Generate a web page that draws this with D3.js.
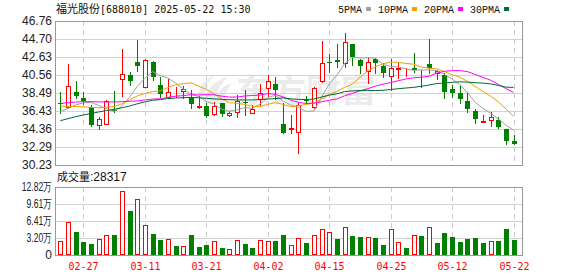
<!DOCTYPE html>
<html>
<head>
<meta charset="utf-8">
<script src="https://cdn.jsdelivr.net/npm/d3@7"></script>
<style>
  body { margin: 0; background: #fff; }
</style>
</head>
<body>
<div id="chart"></div>
<script>
const dates = ["02-24","02-25","02-26","02-27","02-28","03-03","03-04","03-05","03-06","03-07",
  "03-10","03-11","03-12","03-13","03-14","03-17","03-18","03-19","03-20","03-21",
  "03-24","03-25","03-26","03-27","03-28","03-31","04-01","04-02","04-03","04-07",
  "04-08","04-09","04-10","04-11","04-14","04-15","04-16","04-17","04-18","04-21",
  "04-22","04-23","04-24","04-25","04-28","04-29","04-30","05-06","05-07","05-08",
  "05-09","05-12","05-13","05-14","05-15","05-16","05-19","05-20","05-21","05-22"];

const opens = [37.40,36.93,38.65,37.88,36.93,34.78,34.90,36.54,40.06,40.56,
  42.09,39.14,42.05,39.37,37.99,38.60,38.69,38.07,36.93,37.00,
  36.05,37.31,35.93,36.28,37.42,36.16,37.84,39.03,39.53,34.90,
  34.36,33.98,37.69,36.85,39.87,42.09,42.28,41.90,44.12,42.28,
  41.02,42.36,41.63,40.45,41.25,40.87,41.33,40.90,41.82,40.83,
  40.56,38.95,38.46,37.58,36.47,35.13,35.36,35.40,34.36,32.98];
const highs = [38.65,41.82,39.87,38.61,37.12,35.78,37.69,38.72,43.55,40.94,
  44.58,42.44,42.21,40.37,40.06,39.22,39.30,38.84,38.15,37.31,
  37.50,37.38,36.47,38.26,38.84,37.12,39.49,40.56,40.37,37.38,
  35.97,37.38,38.15,39.22,44.46,42.93,44.08,45.42,44.12,42.36,
  42.59,42.47,41.98,42.36,41.98,41.33,43.05,41.14,44.69,41.14,
  40.75,39.41,39.41,38.65,36.62,35.97,36.35,35.78,34.36,33.67];
const lows = [36.16,36.85,37.88,37.23,34.70,34.32,34.90,36.31,38.15,39.41,
  41.06,39.14,39.99,37.99,37.88,37.99,37.88,36.73,36.73,35.70,
  35.97,35.89,35.85,35.78,35.97,36.16,37.12,38.15,37.77,33.94,
  33.86,31.64,37.31,36.73,39.80,40.94,41.52,41.44,41.71,40.83,
  39.60,40.83,40.37,38.84,40.18,40.45,40.94,39.22,40.75,40.06,
  37.88,37.99,37.31,36.35,35.09,35.13,34.70,34.44,32.64,32.60];
const closes = [37.30,39.30,38.15,37.54,34.82,35.47,37.58,36.39,40.68,39.91,
  41.63,42.28,40.29,38.34,38.61,38.65,38.95,37.19,37.00,35.89,
  37.00,36.05,36.16,37.58,37.31,36.66,38.46,39.87,38.84,33.94,
  34.43,37.12,37.58,39.11,41.90,41.98,42.05,44.31,42.59,41.63,
  42.09,41.90,40.75,41.33,41.33,40.94,41.14,40.94,41.33,41.02,
  38.65,38.53,37.81,36.62,35.47,35.28,35.74,34.55,33.02,32.60];

// volume in 万手, and whether the bar is drawn red (1) or green (0)
const volumes = [2.63,6.25,4.38,2.50,2.06,3.00,3.69,3.75,12.00,8.26,
  10.50,5.63,3.94,2.81,2.94,1.69,1.63,3.75,1.50,1.88,
  2.63,1.31,1.06,2.81,2.06,1.31,2.81,2.63,2.63,3.75,
  1.88,3.19,2.25,3.75,4.82,4.31,3.00,5.19,3.56,3.38,
  3.31,3.19,1.88,4.82,2.38,1.31,3.69,3.56,5.19,2.25,
  4.13,3.38,2.44,3.00,3.19,2.25,2.63,2.63,4.88,2.83];
const volUp = [1,1,0,0,0,1,1,0,1,0,
  1,1,0,0,1,0,1,0,0,0,
  1,0,1,1,0,0,1,1,0,0,
  1,1,0,1,1,1,0,1,0,0,
  1,0,0,1,1,0,1,0,1,0,
  0,0,0,0,0,0,1,0,0,0];
const lastVolume = 28317;

const ma5 = [36.35,36.73,37.12,37.38,37.42,37.06,36.71,36.36,36.99,38.01,
  39.24,40.18,40.96,40.49,40.23,39.63,38.97,38.35,38.08,37.54,
  37.21,36.63,36.42,36.54,36.82,36.75,37.23,37.98,38.23,37.55,
  37.11,36.84,36.38,36.44,38.03,39.54,40.52,41.87,42.57,42.51,
  42.53,42.50,41.79,41.54,41.48,41.25,41.10,41.14,41.14,41.07,
  40.62,40.09,39.47,38.53,37.42,36.74,36.18,35.53,34.81,34.24];
const ma10 = [37.00,36.95,36.95,36.90,36.85,36.80,36.85,36.95,37.25,37.71,
  38.15,38.45,38.66,38.74,39.12,39.44,39.58,39.66,39.29,38.89,
  38.42,37.80,37.39,37.31,37.18,36.98,36.93,37.20,37.39,37.19,
  36.93,37.04,37.18,37.34,37.79,38.33,38.68,39.13,39.51,40.27,
  41.04,41.51,41.83,42.06,42.00,41.89,41.80,41.47,41.34,41.28,
  40.94,40.60,40.31,39.84,39.25,38.68,38.14,37.50,36.67,35.83];
const ma20 = [37.30,37.38,37.45,37.50,37.50,37.48,37.46,37.47,37.50,37.55,
  37.58,37.70,37.80,37.82,37.99,38.12,38.20,38.30,38.27,38.30,
  38.29,38.13,38.03,38.03,38.15,38.21,38.26,38.43,38.34,38.04,
  37.68,37.42,37.29,37.33,37.49,37.66,37.81,38.17,38.45,38.73,
  38.99,39.28,39.51,39.70,39.90,40.11,40.24,40.30,40.43,40.78,
  40.99,41.06,41.07,40.95,40.63,40.29,39.97,39.49,39.01,38.56];
const ma30 = [35.32,35.55,35.78,35.97,36.15,36.32,36.48,36.62,36.80,37.00,
  37.25,37.48,37.65,37.75,37.85,37.92,37.96,37.98,37.95,37.88,
  37.82,37.77,37.72,37.70,37.70,37.70,37.74,37.80,37.85,37.93,
  37.83,37.76,37.74,37.80,38.03,38.25,38.40,38.66,38.73,38.78,
  38.80,38.78,38.80,38.90,38.99,39.07,39.14,39.27,39.41,39.58,
  39.64,39.72,39.77,39.75,39.68,39.63,39.54,39.37,39.17,39.13];

const priceTicks = [46.76,44.70,42.63,40.56,38.49,36.43,34.36,32.29,30.23];
const volTicks = [12.82,9.61,6.41,3.20,0];
const dateTicks = ["02-27","03-11","03-21","04-02","04-15","04-25","05-12","05-22"];

const maNames = ["5PMA","10PMA","20PMA","30PMA"];
const maColors = ["#a0a0a0","#f0a000","#ff00ff","#006b2e"];
const maSeries = [ma5, ma10, ma20, ma30];

const RED = "#ff0000", GREEN = "#008000";

const svg = d3.select("#chart").append("svg")
    .attr("width", 578).attr("height", 276)
    .style("font-family", "'Liberation Sans', Arial, sans-serif");

const left = 55, right = 522, kTop = 21, kBot = 165, vTop = 187, vBot = 255;

const x = d3.scaleLinear().domain([-0.7, 60.1]).range([left, right]);
const y = d3.scaleLinear().domain([30.23, 46.76]).range([kBot, kTop]);
const yv = d3.scaleLinear().domain([0, 12.82]).range([vBot, vTop]);
const px = i => Math.round(x(i));
const py = v => Math.round(y(v));

// watermark
const wm = svg.append("g").attr("fill", "#ebebeb");
wm.append("path")
    .attr("d", "M203,104 C206,90 214,80 228,77 C220,84 216,92 215,104 Z M213,104 C216,93 222,86 232,83 C226,90 224,97 224,104 Z M198,96 C199,86 205,79 214,76 C207,83 204,90 204,98 Z");
wm.append("text")
    .attr("x", 236).attr("y", 102)
    .attr("font-family", "'Noto Sans CJK SC'")
    .attr("font-weight", "bold")
    .attr("font-size", 32)
    .attr("textLength", 140)
    .attr("lengthAdjust", "spacingAndGlyphs")
    .text("东方财富");

// grid
const grid = svg.append("g").attr("shape-rendering", "crispEdges");
grid.selectAll(".hk").data(priceTicks.slice(1, -1)).enter().append("line")
    .attr("x1", left).attr("x2", right)
    .attr("y1", d => py(d) + 0.5).attr("y2", d => py(d) + 0.5)
    .attr("stroke", "#d2d2d2");
grid.selectAll(".hv").data(volTicks.slice(1, -1)).enter().append("line")
    .attr("x1", left).attr("x2", right)
    .attr("y1", d => Math.round(yv(d)) + 0.5).attr("y2", d => Math.round(yv(d)) + 0.5)
    .attr("stroke", "#d2d2d2");

const tickIdx = dateTicks.map(d => dates.indexOf(d));
[[kTop, kBot], [vTop, vBot]].forEach(([a, b]) => {
    grid.selectAll(null).data(tickIdx).enter().append("line")
        .attr("x1", d => px(d) + 0.5).attr("x2", d => px(d) + 0.5)
        .attr("y1", a).attr("y2", b)
        .attr("stroke", "#cccccc")
        .attr("stroke-dasharray", "5,4");
});

// borders
[[kTop, kBot], [vTop, vBot]].forEach(([a, b]) => {
    grid.append("rect")
        .attr("x", left + 0.5).attr("y", a + 0.5)
        .attr("width", right - left).attr("height", b - a)
        .attr("fill", "none").attr("stroke", "#999");
});

// y labels
svg.append("g").selectAll("text").data(priceTicks).enter().append("text")
    .attr("x", 52).attr("y", d => y(d))
    .attr("dy", "0.36em")
    .attr("text-anchor", "end")
    .attr("font-size", 12)
    .attr("fill", "#222")
    .text(d => d.toFixed(2));

svg.append("g").selectAll("text").data(volTicks).enter().append("text")
    .attr("x", 52).attr("y", d => yv(d))
    .attr("dy", "0.36em")
    .attr("text-anchor", "end")
    .attr("font-size", 12)
    .attr("fill", "#222")
    .text(d => d === 0 ? "0" : d.toFixed(2) + "万")
    .each(function(d) {
        if (d === 0) return;
        const w = this.getComputedTextLength();
        d3.select(this).attr("textLength", w * 0.72).attr("lengthAdjust", "spacingAndGlyphs");
    });

// date labels
svg.append("g").selectAll("text").data(dateTicks).enter().append("text")
    .attr("x", d => px(dates.indexOf(d)) + 0.5)
    .attr("y", 270)
    .attr("text-anchor", "middle")
    .attr("font-family", "'DejaVu Sans Mono', monospace")
    .attr("font-size", 10)
    .attr("fill", RED)
    .text(d => d);

// candles
const idx = d3.range(dates.length);
const candles = svg.append("g").attr("shape-rendering", "crispEdges");
candles.selectAll(".wick").data(idx).enter().append("line")
    .attr("x1", i => px(i) + 0.5).attr("x2", i => px(i) + 0.5)
    .attr("y1", i => py(highs[i])).attr("y2", i => py(lows[i]) + 1)
    .attr("stroke", i => closes[i] > opens[i] ? RED : GREEN);

candles.selectAll(".body").data(idx).enter().append("rect")
    .each(function(i) {
        const up = closes[i] > opens[i];
        const t = py(Math.max(opens[i], closes[i]));
        const b = py(Math.min(opens[i], closes[i]));
        const r = d3.select(this);
        if (up) {
            r.attr("x", px(i) - 1.5).attr("y", t + 0.5)
             .attr("width", 4).attr("height", Math.max(b - t, 0))
             .attr("fill", "#fff").attr("stroke", RED);
        } else {
            r.attr("x", px(i) - 2).attr("y", t)
             .attr("width", 5).attr("height", Math.max(b - t, 1))
             .attr("fill", GREEN);
        }
    });

// moving averages
const lineGen = d3.line().x((d, i) => x(i)).y(d => y(d));
svg.append("g").selectAll("path").data(maSeries).enter().append("path")
    .attr("d", d => lineGen(d))
    .attr("fill", "none")
    .attr("stroke", (d, k) => maColors[k])
    .attr("stroke-width", 1);

// volume bars
const vb = svg.append("g").attr("shape-rendering", "crispEdges");
vb.selectAll("rect").data(idx).enter().append("rect")
    .each(function(i) {
        const t = Math.round(yv(volumes[i]));
        const r = d3.select(this);
        if (volUp[i]) {
            r.attr("x", px(i) - 1.5).attr("y", t + 0.5)
             .attr("width", 4).attr("height", vBot - t - 1)
             .attr("fill", "#fff").attr("stroke", RED);
        } else {
            r.attr("x", px(i) - 2).attr("y", t)
             .attr("width", 5).attr("height", vBot - t)
             .attr("fill", GREEN);
        }
    });

// title
const title = svg.append("text").attr("x", 56).attr("y", 13).attr("fill", "#111");
title.append("tspan").attr("font-family", "'Noto Sans CJK SC'").attr("font-size", 11).text("福光股份");
title.append("tspan").attr("font-family", "'DejaVu Sans Mono', monospace").attr("font-size", 10)
    .text("[688010] 2025-05-22 15:30");

// legend
const leg = svg.append("g").attr("font-family", "'Liberation Mono', monospace").attr("font-size", 10);
let lx = 338;
maNames.forEach((name, k) => {
    const t = leg.append("text").attr("x", lx).attr("y", 12.5).attr("fill", "#111").text(name);
    const w = t.node().getComputedTextLength();
    leg.append("rect").attr("x", lx + w + 4).attr("y", 7).attr("width", 5).attr("height", 4)
        .attr("fill", maColors[k]);
    lx += w + 16;
});

// volume caption
const cap = svg.append("text").attr("x", 57).attr("y", 181).attr("fill", "#111");
cap.append("tspan").attr("font-family", "'Noto Sans CJK SC'").attr("font-size", 11).text("成交量");
cap.append("tspan").attr("font-size", 12).text(":" + lastVolume);
</script>
</body>
</html>
